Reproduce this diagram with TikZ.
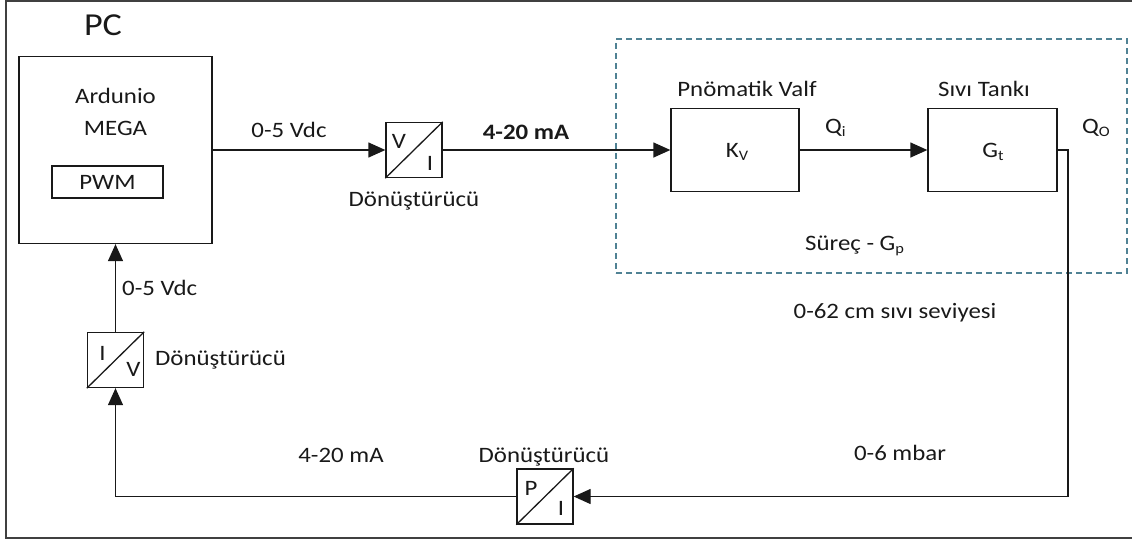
\documentclass[tikz,border=0pt]{standalone}
\usepackage{fontspec}
\setmainfont{Carlito}[FakeStretch=1.13]
\usetikzlibrary{arrows.meta}
\definecolor{frm}{RGB}{64,64,64}
\definecolor{dsh}{RGB}{80,130,148}
\definecolor{ink}{RGB}{25,25,25}
\newcommand\lowsub[1]{\raisebox{-3pt}{\fontsize{14.5}{15}\selectfont #1}}
\begin{document}
\begin{tikzpicture}[x=1pt,y=-1pt,
  blk/.style={draw=ink, line width=1.3pt, inner sep=0},
  conv/.style={draw=ink, line width=1.3pt, minimum width=56pt, minimum height=55pt, inner sep=0},
  lbl/.style={inner sep=0, font=\fontsize{22}{26}\selectfont, text=ink},
  arr/.style={draw=ink, line width=1.3pt, -{Triangle[length=17pt,width=15pt]}},
  ln/.style={draw=ink, line width=1.3pt},
  procbox/.style={draw=dsh, line width=1.5pt, dash pattern=on 6pt off 4pt, inner sep=0}]
\useasboundingbox (0,0) rectangle (1132,539);
% outer frame
\draw[frm, line width=1.5pt] (1140,1) -- (6,1) -- (6,538) -- (1140,538);
% process region
\node[procbox, minimum width=511pt, minimum height=234pt] (proc) at (871.5,156) {};
% PC
\node[lbl, anchor=base, font=\fontsize{32}{36}\selectfont] (pc) at (103,35) {PC};
% Arduino
\node[blk, minimum width=193pt, minimum height=187pt] (ard) at (115.5,150) {};
\node[lbl, anchor=base] (ardt1) at (115.5,103) {Ardunio};
\node[lbl, anchor=base] (ardt2) at (115.5,135) {MEGA};
\node[blk, minimum width=111pt, minimum height=32pt, font=\fontsize{22}{26}\selectfont, text=ink] (pwm) at (107.5,182) {PWM};
% V/I converter
\node[conv] (vi) at (414,150) {};
\draw[ln] (vi.south west) -- (vi.north east);
\node[lbl] (vi1) at ([shift={(-15,-9)}]vi.center) {V};
\node[lbl] (vi2) at ([shift={(16,13)}]vi.center) {I};
\node[lbl, anchor=base] (vil) at (414,206) {Dönüştürücü};
% valve and tank
\node[blk, minimum width=128pt, minimum height=83pt] (kv) at (735,150) {};
\node[lbl, anchor=base] (kvt) at (737,157) {K\lowsub{V}};
\node[lbl, anchor=base] (kvl) at (747,96) {Pnömatik Valf};
\node[blk, minimum width=129pt, minimum height=83pt] (gt) at (992.5,150) {};
\node[lbl, anchor=base] (gtt) at (993,157) {G\lowsub{t}};
\node[lbl, anchor=base] (gtl) at (984,96) {Sıvı Tankı};
\node[lbl, anchor=base west] (qi) at (825,133) {Q\lowsub{i}};
\node[lbl, anchor=base west] (qo) at (1082,133) {Q\lowsub{O}};
\node[lbl, anchor=base west] (gp) at (805,250) {Süreç - G\lowsub{p}};
% labels on forward path
\node[lbl, anchor=base] (l05) at (289,137) {0-5 Vdc};
\node[lbl, anchor=base, font=\fontsize{22}{26}\selectfont\bfseries] (l420) at (526,139) {4-20 mA};
\node[lbl, anchor=base] (llev) at (895,318) {0-62 cm sıvı seviyesi};
\node[lbl, anchor=base] (lmbar) at (900,460) {0-6 mbar};
% P/I converter
\node[conv] (pi) at (545,496.5) {};
\draw[ln] (pi.south west) -- (pi.north east);
\node[lbl] (pi1) at ([shift={(-14,-8)}]pi.center) {P};
\node[lbl] (pi2) at ([shift={(16,12)}]pi.center) {I};
\node[lbl, anchor=base] (pil) at (544,462) {Dönüştürücü};
\node[lbl, anchor=base] (l420b) at (341,462) {4-20 mA};
% I/V converter
\node[conv] (iv) at (115.5,360) {};
\draw[ln] (iv.south west) -- (iv.north east);
\node[lbl] (iv1) at ([shift={(-13,-7)}]iv.center) {I};
\node[lbl] (iv2) at ([shift={(18,9)}]iv.center) {V};
\node[lbl, anchor=base west] (ivl) at (155,365) {Dönüştürücü};
\node[lbl, anchor=base west] (l05b) at (122,295) {0-5 Vdc};
% connectors
\coordinate (fb) at (1068,496.5);
\draw[arr] (ard.east) -- (vi.west);
\draw[arr] (vi.east) -- (kv.west);
\draw[arr] (kv.east) -- (gt.west);
\draw[arr] (gt.east) -| (fb) -- (pi.east);
\draw[arr] (pi.west) -| (iv.south);
\draw[arr] (iv.north) -- (ard.south);
\end{tikzpicture}
\end{document}
